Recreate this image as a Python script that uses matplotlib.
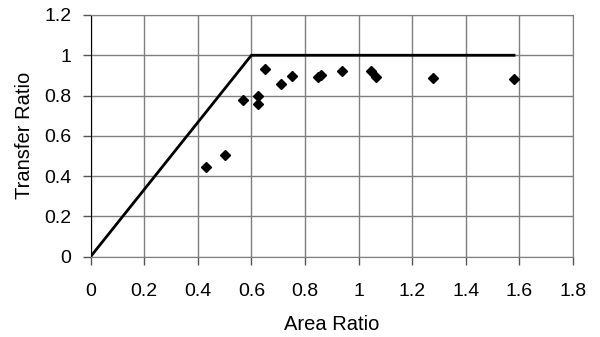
import matplotlib
matplotlib.use('Agg')
import matplotlib.pyplot as plt

# measured points
area_ratio = [0.43, 0.50, 0.57, 0.626, 0.626, 0.65, 0.71, 0.75, 0.847, 0.86, 0.938, 1.048, 1.065, 1.278, 1.58]
transfer_ratio = [0.445, 0.504, 0.78, 0.797, 0.76, 0.934, 0.855, 0.899, 0.891, 0.901, 0.922, 0.924, 0.893, 0.888, 0.884]

# theoretical limit line
limit_x = [0, 0.6, 1.58]
limit_y = [0, 1.0, 1.0]

plt.rcParams['font.family'] = ['Liberation Sans', 'DejaVu Sans']

fig = plt.figure(figsize=(6, 3.37), dpi=100)
ax = fig.add_axes([0.151, 0.2385, 0.804, 0.717])

ax.plot(limit_x, limit_y, color='black', lw=2, zorder=3)
ax.plot(area_ratio, transfer_ratio, 'D', color='black', ms=5.5, zorder=4)

ax.set_xlim(0, 1.8)
ax.set_ylim(0, 1.2)
ax.set_xticks([0, 0.2, 0.4, 0.6, 0.8, 1, 1.2, 1.4, 1.6, 1.8])
ax.set_xticklabels(['0', '0.2', '0.4', '0.6', '0.8', '1', '1.2', '1.4', '1.6', '1.8'])
ax.set_yticks([0, 0.2, 0.4, 0.6, 0.8, 1, 1.2])
ax.set_yticklabels(['0', '0.2', '0.4', '0.6', '0.8', '1', '1.2'])

ax.grid(True, color='#7f7f7f', lw=1)
ax.set_axisbelow(True)
for side in ['top', 'right', 'bottom']:
    ax.spines[side].set_color('#7f7f7f')
ax.spines['left'].set_color('black')
ax.tick_params(direction='out', length=6, width=1, color='#555555', labelsize=14)
ax.tick_params(axis='x', pad=13)
ax.tick_params(axis='y', pad=8)

ax.set_xlabel('Area Ratio', fontsize=14.5, labelpad=11)
ax.set_ylabel('Transfer Ratio', fontsize=14.5, labelpad=7)

plt.savefig('out.png', dpi=100)
